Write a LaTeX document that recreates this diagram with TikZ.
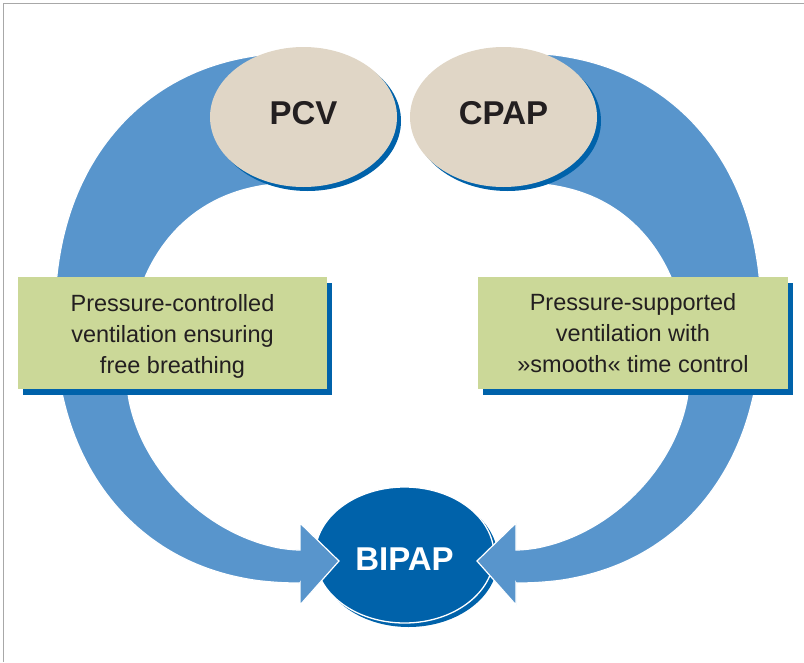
\documentclass[tikz,border=0pt]{standalone}
\usepackage{fontspec}
\setmainfont{Liberation Sans}
\usetikzlibrary{shapes.geometric}
\definecolor{arrowblue}{RGB}{88,149,204}
\definecolor{dkblue}{RGB}{0,98,170}
\definecolor{beige}{RGB}{224,214,198}
\definecolor{boxgreen}{RGB}{203,216,152}
\definecolor{inkdark}{RGB}{35,31,32}
\definecolor{framegray}{RGB}{168,168,168}
\tikzset{
  shadowed/.style={preaction={fill=dkblue, transform canvas={xshift=#1, yshift=-#1}}},
  shadowed/.default=4pt,
  modeoval/.style={ellipse, fill=beige, inner sep=0pt, minimum width=187pt, minimum height=140pt,
    text=inkdark, font=\fontsize{33}{36}\selectfont\bfseries, text height=23.6pt, text depth=9pt, shadowed},
  bipapoval/.style={ellipse, fill=dkblue, draw=white, line width=1.3pt, inner sep=0pt,
    minimum width=179pt, minimum height=136pt, text=white, font=\fontsize{33}{36}\selectfont\bfseries,
    text height=30.6pt, text depth=0pt, shadowed},
  infobox/.style={rectangle, fill=boxgreen, inner sep=0pt, minimum width=309pt, minimum height=112pt,
    preaction={fill=dkblue, transform canvas={xshift=5pt, yshift=-6pt}}},
  boxtext/.style={align=center, inner sep=0pt, text=inkdark, font=\fontsize{23.5}{31}\selectfont},
  armfill/.style={fill=arrowblue, draw=white, line width=1.2pt, line join=miter},
  framestyle/.style={draw=framegray, line width=1.3pt}
}
\begin{document}
\begin{tikzpicture}[x=1pt,y=-1pt]
\useasboundingbox (0,0) rectangle (804,662);
% frame
\draw[framestyle] (3.5,662) -- (3.5,3.5) -- (804,3.5);
% BIPAP
\node[bipapoval] (bipap) at (404.5,555) {BIPAP};
% curved arrows (left one, and its mirror image)
\foreach \s/\sh in {1/0,-1/816}{
\begin{scope}[xshift=\sh pt, xscale=\s]
\path[armfill]
 plot[domain=90:0, samples=60] ({300-245*pow(max(cos(\x),0.00001),0.9091)}, {318-265*pow(max(sin(\x),0.00001),0.9091)})
 -- plot[domain=0:90, samples=60] ({300-245*pow(max(cos(\x),0.00001),0.9091)}, {318+265*pow(max(sin(\x),0.00001),0.9091)})
 -- (300,583) -- (300,605) -- (339,561) -- (300,523) -- (300,550)
 -- plot[domain=90:0, samples=60] ({300-173*pow(max(cos(\x),0.00001),1.1111)}, {380+170*pow(max(sin(\x),0.00001),1.1111)})
 -- plot[domain=0:90, samples=60] ({300-173*pow(max(cos(\x),0.00001),0.8696)}, {380-197*pow(max(sin(\x),0.00001),0.8696)})
 -- cycle;
\end{scope}
}
% modes
\node[modeoval] (pcv) at (303.5,117) {PCV};
\node[modeoval] (cpap) at (503.5,117) {CPAP};
% boxes
\node[infobox] (pcvbox) at (172.5,333) {};
\node[infobox, minimum width=310pt] (cpapbox) at (633,333) {};
\node[boxtext] (pcvtext) at ([yshift=-3pt]pcvbox.center) {Pressure-controlled\\ventilation ensuring\\free breathing};
\node[boxtext] (cpaptext) at (cpapbox.center) {Pressure-supported\\ventilation with\\»smooth« time control};
\end{tikzpicture}
\end{document}
